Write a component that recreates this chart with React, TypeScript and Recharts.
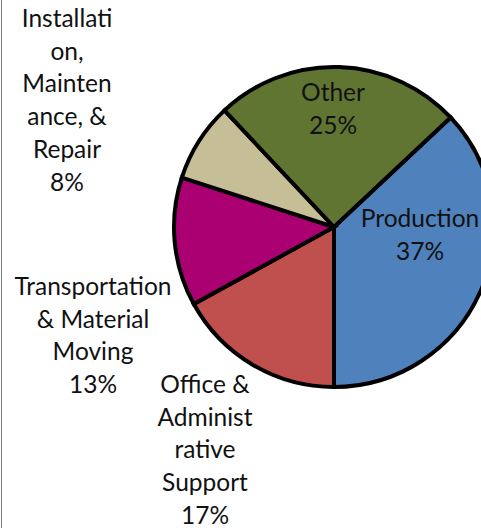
import { Pie, PieChart, Cell } from "recharts";

// Employment by occupation group, shares in percent.
const CATEGORIES = [
  "Production",
  "Office & Administrative Support",
  "Transportation & Material Moving",
  "Installation, Maintenance, & Repair",
  "Other",
];
const VALUES = [37, 17, 13, 8, 25];
// How each label wraps in the original (percent line is added from VALUES).
const LABEL_LINES = [
  ["Production"],
  ["Office &", "Administ", "rative", "Support"],
  ["Transportation", "& Material", "Moving"],
  ["Installati", "on,", "Mainten", "ance, &", "Repair"],
  ["Other"],
];
const COLORS = ["#4F81BD", "#C0504D", "#AB0072", "#C5BE97", "#617532"];

const data = CATEGORIES.map((name, i) => ({ name, value: VALUES[i] }));

const CX = 329;
const CY = 222;
const LINE_H = 32.7;

// first-baseline offset of each label block from the pie centre (best-fit placement)
const LABEL_POS: Record<string, { dx: number; dy: number }> = {
  Production: { dx: 91, dy: 5 },
  "Office & Administrative Support": { dx: -124, dy: 171 },
  "Transportation & Material Moving": { dx: -236, dy: 73 },
  "Installation, Maintenance, & Repair": { dx: -262, dy: -195 },
  Other: { dx: 4, dy: -121 },
};

function renderLabel(props: any) {
  const i = props.index;
  const name = CATEGORIES[i];
  const pos = LABEL_POS[name];
  const lines = [...LABEL_LINES[i], `${VALUES[i]}%`];
  const x = CX + pos.dx;
  const y = CY + pos.dy;
  return (
    <text
      key={name}
      x={x}
      y={y}
      textAnchor="middle"
      fill="#111"
      fontSize={24.5}
      fontFamily="Lato, 'Open Sans', sans-serif"
    >
      {lines.map((l, j) => (
        <tspan key={j} x={x} y={y + j * LINE_H}>
          {l}
        </tspan>
      ))}
    </text>
  );
}

export default function App() {
  return (
    <div
      style={{
        position: "absolute",
        left: 0,
        top: 0,
        width: 481,
        height: 528,
        background: "#fff",
        overflow: "hidden",
      }}
    >
      {/* the chart-area frame: only its left edge shows in the crop */}
      <div
        style={{
          position: "absolute",
          left: 1,
          top: 0,
          width: 1,
          height: 528,
          background: "#7f7f7f",
        }}
      />
      <PieChart width={481} height={528} style={{ position: "absolute", left: 0, top: 0 }}>
        <Pie
          data={data}
          dataKey="value"
          nameKey="name"
          cx={CX}
          cy={CY}
          outerRadius={160}
          startAngle={43.2}
          endAngle={43.2 - 360}
          stroke="#000"
          strokeWidth={4}
          label={renderLabel}
          labelLine={false}
          isAnimationActive={false}
        >
          {data.map((d, i) => (
            <Cell key={d.name} fill={COLORS[i]} />
          ))}
        </Pie>
      </PieChart>
    </div>
  );
}
